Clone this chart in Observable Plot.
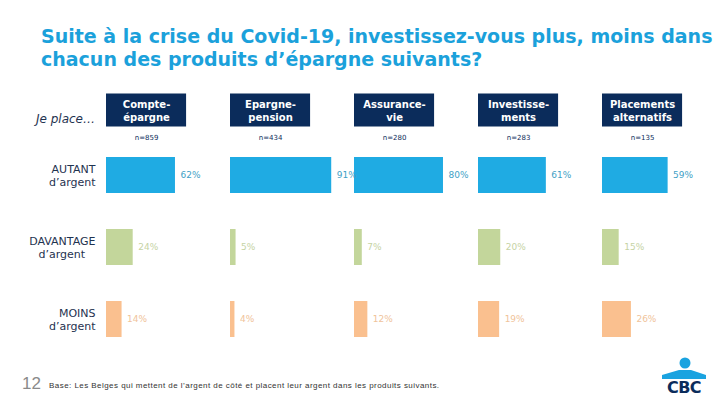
<!DOCTYPE html>
<html>
<head>
<meta charset="utf-8">
<script src="https://cdn.jsdelivr.net/npm/d3@7"></script>
<script src="https://cdn.jsdelivr.net/npm/@observablehq/plot@0.6"></script>
<style>
  html, body { margin: 0; padding: 0; background: #fff; }
  #page { position: relative; width: 720px; height: 405px; overflow: hidden; font-family: "DejaVu Sans", Verdana, sans-serif; }
  #title { position: absolute; left: 41px; top: 25px; white-space: nowrap; font-weight: bold; font-size: 19px; line-height: 23px; color: #1ba1db; }
  #jeplace { position: absolute; right: 625px; top: 112px; font-style: italic; font-size: 12px; color: #1f3350; }
  #chart { position: absolute; left: 0; top: 75px; }
  #pagenum { position: absolute; left: 22px; top: 374px; font-size: 17px; color: #8a8a8a; font-family: "Liberation Sans", sans-serif; }
  #caption { position: absolute; left: 49px; top: 381px; font-size: 8px; letter-spacing: 0.45px; color: #333; font-family: "Liberation Sans", sans-serif; }
  #logo { position: absolute; left: 658px; top: 357px; overflow: visible; }
</style>
</head>
<body>
<div id="page">
  <div id="title">Suite à la crise du Covid-19, investissez-vous plus, moins dans<br>chacun des produits d’épargne suivants?</div>
  <div id="jeplace">Je place…</div>
  <div id="chart"></div>
  <div id="pagenum">12</div>
  <div id="caption">Base: Les Belges qui mettent de l’argent de côté et placent leur argent dans les produits suivants.</div>
  <svg id="logo" width="50" height="44" viewBox="0 0 50 44">
    <circle cx="27" cy="6" r="5.5" fill="#1aa3e0"/>
    <path d="M4 18 L21 13 L33 13 L48 18 L48 22 L4 22 Z" fill="#1aa3e0"/>
    <text x="26" y="36" text-anchor="middle" font-family="DejaVu Sans" font-weight="bold" font-size="16" fill="#0b2c5b" letter-spacing="-0.5">CBC</text>
  </svg>
</div>
<script>
// ---- data ----
const products = ["Compte-épargne", "Epargne-pension", "Assurance-vie", "Investissements", "Placements alternatifs"];
const headerLabels = ["Compte-\népargne", "Epargne-\npension", "Assurance-\nvie", "Investisse-\nments", "Placements\nalternatifs"];
const sampleSizes = [859, 434, 280, 283, 135];
const rows = ["AUTANT", "DAVANTAGE", "MOINS"];
const rowLabels = ["AUTANT\nd’argent", "DAVANTAGE\nd’argent\u00A0\u00A0\u00A0", "MOINS\nd’argent"];
const autant = [62, 91, 80, 61, 59];
const davantage = [24, 5, 7, 20, 15];
const moins = [14, 4, 12, 19, 26];

// ---- styles ----
const HEADER = "header";
const headerSpan = 72;
const barColors = ["#1fabe3", "#c3d69b", "#fac08f"];
const labelColors = ["#3f9fc6", "#c6d3a4", "#f0c39a"];
const navy = "#0b2c5b";

const series = [autant, davantage, moins];
const table = [];
rows.forEach((r, i) => products.forEach((p, j) => table.push({product: p, row: r, value: series[i][j]})));
const headers = products.map((p, j) => ({product: p, label: headerLabels[j], n: "n=" + sampleSizes[j]}));
const rowLabelOf = Object.fromEntries(rows.map((r, i) => [r, rowLabels[i]]));

const plot = Plot.plot({
  width: 720,
  height: 270,
  marginLeft: 104,
  marginRight: 7,
  marginTop: 10,
  marginBottom: 8,
  style: {fontFamily: "DejaVu Sans, Verdana, sans-serif", background: "transparent"},
  fx: {domain: products, axis: null, paddingInner: 0.118, paddingOuter: 0},
  y: {domain: [HEADER, ...rows], paddingInner: 0.5, paddingOuter: 0, label: null},
  x: {domain: [0, 98], axis: null},
  color: {domain: rows, range: barColors},
  marks: [
    Plot.axisY({tickSize: 0, tickPadding: 11, fontSize: 11, fill: "#1f3350", lineHeight: 1.2, label: null,
      tickFormat: d => rowLabelOf[d] ?? ""}),
    Plot.barX(headers, {fx: "product", y: () => HEADER, x1: () => 0, x2: () => headerSpan,
      fill: navy, dy: 7, insetTop: 1.5, insetBottom: 1.5}),
    Plot.text(headers, {fx: "product", y: () => HEADER, x: () => headerSpan / 2, text: "label",
      fill: "white", fontWeight: "bold", fontSize: 10, lineHeight: 1.25, dy: 7}),
    Plot.text(headers, {fx: "product", y: () => HEADER, x: () => headerSpan / 2, text: "n",
      fill: navy, fontSize: 7, dy: 34}),
    Plot.barX(table, {fx: "product", y: "row", x: "value", fill: "row"}),
    ...rows.map((r, i) => Plot.text(table.filter(d => d.row === r), {
      fx: "product", y: "row", x: "value", text: d => d.value + "%",
      textAnchor: "start", dx: 5, fontSize: 9, fill: labelColors[i]}))
  ]
});
document.getElementById("chart").appendChild(plot);
</script>
</body>
</html>
